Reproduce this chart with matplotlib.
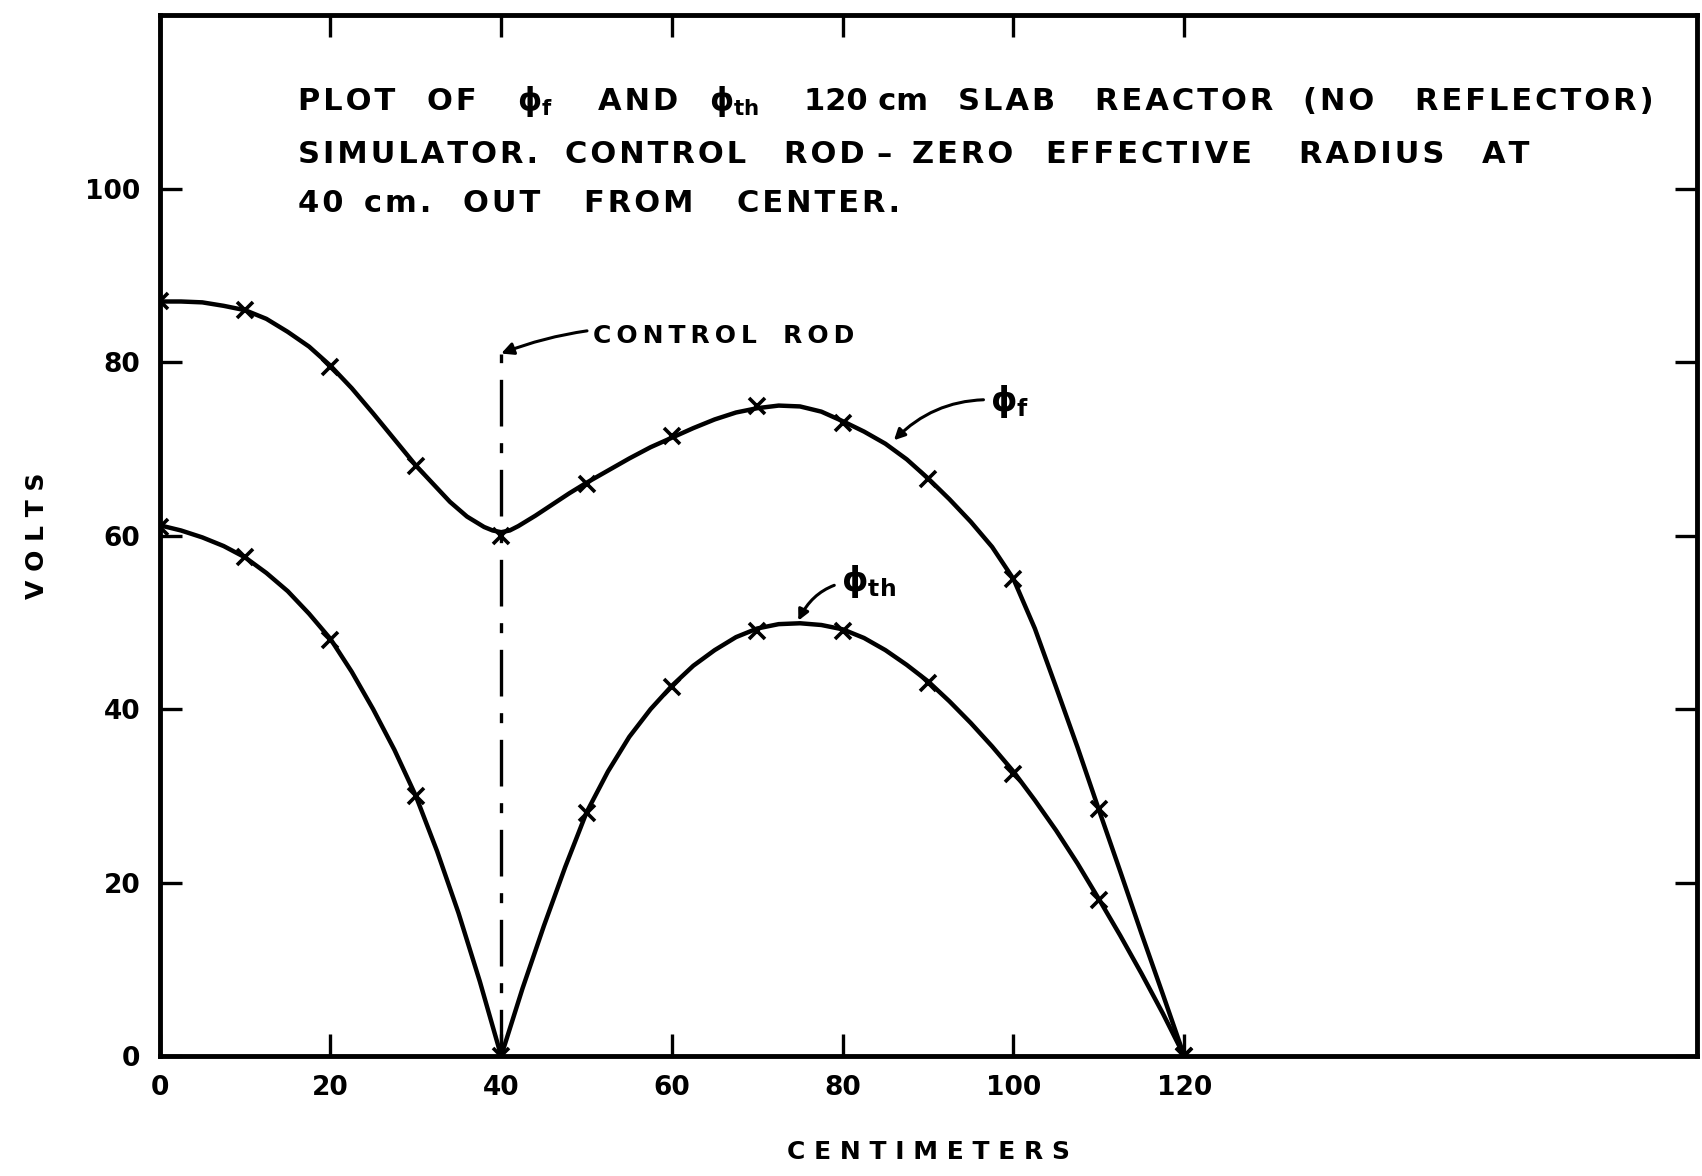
import matplotlib
matplotlib.use("Agg")
import matplotlib.pyplot as plt
import matplotlib.transforms as mtransforms

plt.rcParams['font.family'] = ['DejaVu Sans']
plt.rcParams['mathtext.fontset'] = 'dejavusans'

# measured points (x marks)
x_pts = [0, 10, 20, 30, 40, 50, 60, 70, 80, 90, 100, 110, 120]
phi_f_pts = [87, 86, 79.5, 68, 60, 66, 71.5, 75, 73, 66.5, 55, 28.5, 0]
phi_th_pts = [61, 57.5, 48, 30, 0, 28, 42.5, 49, 49, 43, 32.5, 18, 0]

# hand-drawn smooth curves
x_f_curve = [0, 2.5, 5, 7.5, 10, 12.5, 15, 17.5, 20, 22.5, 25, 27.5, 30, 32, 34, 36, 38, 39, 40, 41, 42, 44, 46, 48,
             50, 52.5, 55, 57.5, 60, 62.5, 65, 67.5, 70, 72.5, 75, 77.5, 80, 82.5, 85, 87.5, 90, 92.5, 95, 97.5,
             100, 102.5, 105, 107.5, 110, 112.5, 115, 117.5, 120]
phi_f_curve = [87, 87.0, 86.9, 86.5, 86, 85.0, 83.5, 81.8, 79.6, 77.0, 74.1, 71.1, 68.1, 66.0, 63.9, 62.2, 61.0, 60.6, 60.4, 60.6, 61.1, 62.3, 63.6, 64.9,
               66.1, 67.5, 68.9, 70.2, 71.3, 72.4, 73.4, 74.2, 74.7, 75.0, 74.9, 74.3, 73.2, 72.0, 70.6, 68.8, 66.6, 64.2, 61.6, 58.7,
               55, 49.3, 42.5, 35.6, 28.4, 21.3, 14.1, 7.1, 0]
x_th_curve = [0, 2.5, 5, 7.5, 10, 12.5, 15, 17.5, 20, 22.5, 25, 27.5, 30, 32.5, 35, 37.5, 40, 42.5, 45, 47.5,
              50, 52.5, 55, 57.5, 60, 62.5, 65, 67.5, 70, 72.5, 75, 77.5, 80, 82.5, 85, 87.5, 90, 92.5, 95, 97.5,
              100, 102.5, 105, 107.5, 110, 112.5, 115, 117.5, 120]
phi_th_curve = [61.2, 60.6, 59.8, 58.8, 57.5, 55.7, 53.6, 51.0, 48.1, 44.3, 40.0, 35.3, 30, 23.6, 16.5, 8.6, 0, 7.8, 15.0, 21.8,
                28.1, 32.8, 36.8, 40.0, 42.7, 45.0, 46.8, 48.3, 49.3, 49.8, 49.9, 49.7, 49.2, 48.2, 46.8, 45.1, 43.2, 40.9, 38.4, 35.7,
                32.8, 29.5, 26.0, 22.2, 18.1, 13.9, 9.5, 4.9, 0]

x_ticks = [0, 20, 40, 60, 80, 100, 120]
y_ticks = [0, 20, 40, 60, 80, 100]
rod_x = 40
rod_top = 81

PHI_F = "ϕ$_{\\mathregular{f}}$"
PHI_TH = "ϕ$_{\\mathregular{th}}$"
title_words = [
    ["PLOT", "OF", PHI_F, "AND", PHI_TH, "120 cm", "SLAB", "REACTOR", "(NO", "REFLECTOR)"],
    ["SIMULATOR.", "CONTROL", "ROD", "–", "ZERO", "EFFECTIVE", "RADIUS", "AT"],
    ["40", "cm.", "OUT", "FROM", "CENTER."],
]
# word start positions (figure pixels) and line heights (data units)
title_word_px = [
    [298, 427, 517, 598, 709, 804, 958, 1095, 1303, 1415],
    [298, 565, 784, 876, 912, 1046, 1299, 1482],
    [298, 364, 463, 584, 737],
]
title_line_y = [110.1, 103.9, 98.3]

HS = "\u200a"


def spaced(word, sep=HS):
    # letter-spacing for plain words, like the stencil lettering of the original
    if "$" in word or " " in word:
        return word
    return sep.join(list(word))


W, H = 1702, 1176
fig = plt.figure(figsize=(W / 100, H / 100), dpi=100)
ax = fig.add_axes([0.0938, 0.102, 0.903, 0.885])

ax.plot(x_f_curve, phi_f_curve, color='black', lw=3.2, solid_capstyle='round', solid_joinstyle='round')
ax.plot(x_th_curve, phi_th_curve, color='black', lw=3.2, solid_capstyle='round', solid_joinstyle='round')
ax.plot(x_pts, phi_f_pts, linestyle='none', marker='x', ms=12, mew=2.6, color='black')
ax.plot(x_pts, phi_th_pts, linestyle='none', marker='x', ms=12, mew=2.6, color='black')

ax.plot([rod_x, rod_x], [0, rod_top], color='black', lw=2.4, linestyle=(0, (14, 5, 3, 5)))

ax.set_xlim(0, 180)
ax.set_ylim(0, 120)
ax.set_xticks(x_ticks)
ax.set_yticks(y_ticks)
ax.set_xticklabels([str(v) for v in x_ticks])
ax.set_yticklabels([str(v) for v in y_ticks])

for s in ax.spines.values():
    s.set_linewidth(3.5)
ax.tick_params(axis='both', which='both', direction='in', length=16, width=2.4,
               top=True, right=True, labelsize=19, pad=14)
for lbl in ax.get_xticklabels() + ax.get_yticklabels():
    lbl.set_fontweight('bold')

ax.set_xlabel("C E N T I M E T E R S", fontsize=18, fontweight='bold', labelpad=28)
ax.set_ylabel("V O L T S", fontsize=18, fontweight='bold', labelpad=26)

trans = mtransforms.blended_transform_factory(fig.transFigure, ax.transData)
for words, xs, yv in zip(title_words, title_word_px, title_line_y):
    for w, xp in zip(words, xs):
        ax.text(xp / W, yv, spaced(w), transform=trans, fontsize=22, fontweight='bold',
                va='center', ha='left')

ax.annotate(spaced("CONTROL", "\u2009") + "   " + spaced("ROD", "\u2009"), xy=(rod_x, rod_top), xytext=(50.7, 83),
            fontsize=18, fontweight='bold', va='center', ha='left',
            arrowprops=dict(arrowstyle='-|>', color='black', lw=2.2, mutation_scale=18,
                            connectionstyle='arc3,rad=0.15', shrinkA=2, shrinkB=0))
ax.annotate(PHI_F, xy=(86, 71), xytext=(97.3, 75.5),
            fontsize=24, fontweight='bold', va='center', ha='left',
            arrowprops=dict(arrowstyle='-|>', color='black', lw=2.2, mutation_scale=16,
                            connectionstyle='arc3,rad=0.25', shrinkA=3, shrinkB=0))
ax.annotate(PHI_TH, xy=(74.8, 50.2), xytext=(79.8, 54.7),
            fontsize=24, fontweight='bold', va='center', ha='left',
            arrowprops=dict(arrowstyle='-|>', color='black', lw=2.2, mutation_scale=16,
                            connectionstyle='arc3,rad=0.35', shrinkA=3, shrinkB=0))

fig.savefig("out.png", dpi=100)
